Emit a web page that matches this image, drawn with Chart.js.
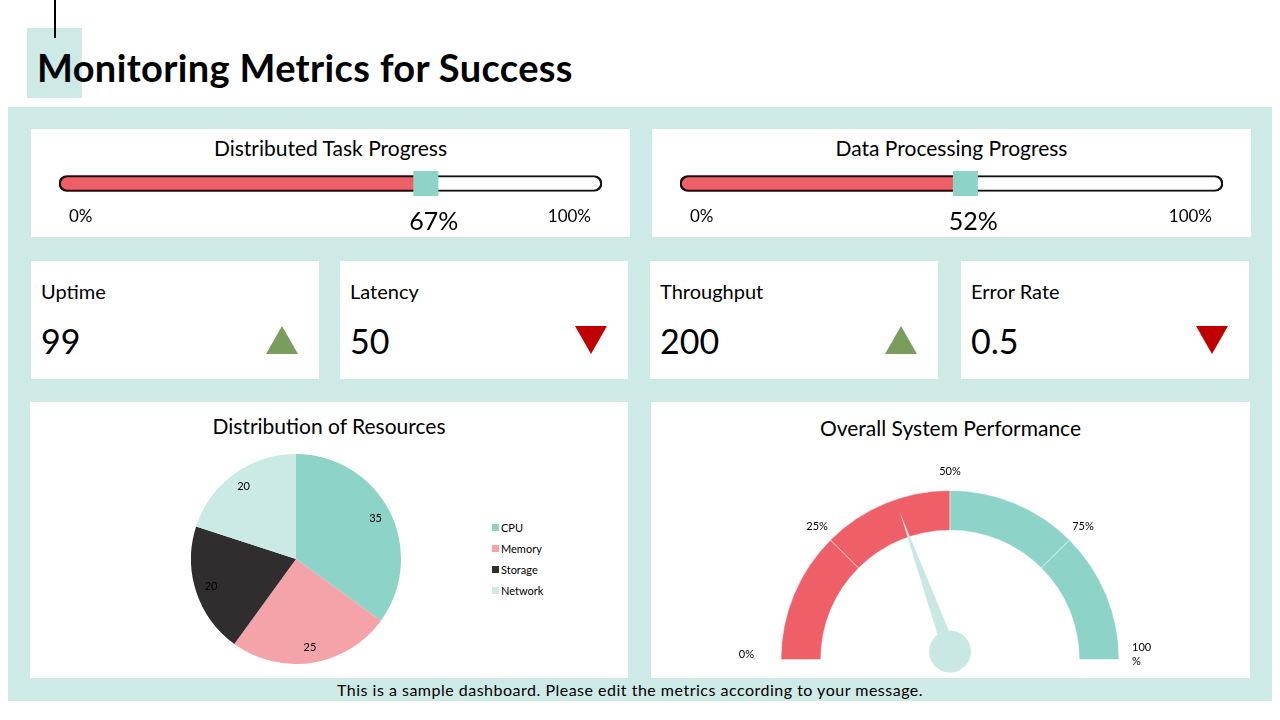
<!DOCTYPE html>
<html>
<head>
<meta charset="utf-8">
<title>Monitoring Metrics for Success</title>
<script src="https://cdn.jsdelivr.net/npm/chart.js@4.4.1/dist/chart.umd.min.js"></script>
<style>
  body { margin: 0; width: 1280px; height: 720px; background: #fff; font-family: Lato, "Noto Sans", sans-serif; color: #000; position: relative; overflow: hidden; }
  .abs { position: absolute; }
  #titleBox { left: 27px; top: 28px; width: 55px; height: 70px; background: #cdeae7; }
  #titleLine { left: 54px; top: 0; width: 2px; height: 38px; background: #000; }
  #title { left: 37px; top: 44px; font-size: 38px; font-weight: 700; line-height: 46px; white-space: nowrap; letter-spacing: 0.35px; }
  #panel { left: 8px; top: 107px; width: 1264px; height: 594px; background: #cdeae7; }
  .card { position: absolute; background: #fff; }
  .cardTitle { position: absolute; left: 0; right: 0; text-align: center; font-size: 21px; line-height: 24px; }
  .chartBox { position: absolute; }
  .kpiLabel { position: absolute; left: 10px; top: 18px; font-size: 20px; line-height: 24px; }
  .kpiValue { position: absolute; left: 10px; top: 60px; font-size: 34px; line-height: 40px; }
  .tri { position: absolute; width: 0; height: 0; border-left: 16px solid transparent; border-right: 16px solid transparent; }
  .tri.up { border-bottom: 28px solid #799d5c; }
  .tri.down { border-top: 28px solid #c00000; }
  #legend { left: 492px; top: 517px; font-size: 11px; line-height: 21px; }
  #legend div { display: flex; align-items: center; }
  #legend span.box { width: 7px; height: 7px; margin-right: 2px; display: inline-block; }
  #footer { left: 0; width: 1260px; top: 680px; text-align: center; font-size: 16px; line-height: 20px; letter-spacing: 0.5px; }
</style>
</head>
<body>
<div id="panel" class="abs"></div>
<div id="titleBox" class="abs"></div>
<div id="titleLine" class="abs"></div>
<div id="title" class="abs">Monitoring Metrics for Success</div>

<div id="progress"></div>
<div id="kpis"></div>

<div class="card" style="left:30px; top:402px; width:598px; height:276px;">
  <div class="cardTitle" style="top:12px;">Distribution of Resources</div>
</div>
<div class="chartBox" style="left:191px; top:454px; width:210px; height:210px;"><canvas id="pieChart"></canvas></div>
<div id="legend" class="abs"></div>

<div class="card" style="left:651px; top:402px; width:599px; height:276px;">
  <div class="cardTitle" style="top:14px;">Overall System Performance</div>
  <div class="chartBox" style="left:0; top:0; width:599px; height:276px;"><canvas id="gaugeChart"></canvas></div>
</div>

<div id="footer" class="abs">This is a sample dashboard. Please edit the metrics according to your message.</div>

<script>
// Dados do painel
const progressTitles = ['Distributed Task Progress', 'Data Processing Progress'];
const progressValues = [67, 52];
const progressTicks = ['0%', '100%'];

const kpiLabels = ['Uptime', 'Latency', 'Throughput', 'Error Rate'];
const kpiValues = ['99', '50', '200', '0.5'];
const kpiTrends = ['up', 'down', 'up', 'down'];

const resourceLabels = ['CPU', 'Memory', 'Storage', 'Network'];
const resourceValues = [35, 25, 20, 20];

const gaugeBands = [25, 25, 25, 25];
const gaugeValue = 39;
const gaugeTicks = ['0%', '25%', '50%', '75%', '100%'];

const TEAL = '#8dd3c7';
const RED = '#ef5f67';
const resourceColors = [TEAL, '#f4a3a8', '#302d2e', '#cbe9e5'];
const gaugeColors = [RED, RED, TEAL, TEAL];
const FONT = 'Lato, "Noto Sans", sans-serif';

// Cartões de progresso
const progressLefts = [31, 652];
const progressBox = document.getElementById('progress');
progressTitles.forEach(function(title, i) {
    const card = document.createElement('div');
    card.className = 'card';
    card.style.cssText = 'left:' + progressLefts[i] + 'px; top:129px; width:599px; height:108px;';
    card.innerHTML = '<div class="cardTitle" style="top:7px;">' + title + '</div>' +
        '<div class="chartBox" style="left:0; top:31px; width:599px; height:77px;"><canvas></canvas></div>';
    progressBox.appendChild(card);

    const value = progressValues[i];
    const marker = {
        id: 'marker' + i,
        afterDatasetsDraw(chart) {
            const bar = chart.getDatasetMeta(1).data[0];
            const xs = chart.scales.x;
            const ctx = chart.ctx;
            ctx.save();
            ctx.fillStyle = TEAL;
            ctx.fillRect(bar.x - 9.5, bar.y - 12.5, 25, 25);
            ctx.fillStyle = '#000';
            ctx.textBaseline = 'middle';
            ctx.font = '17px ' + FONT;
            ctx.textAlign = 'left';
            ctx.fillText(progressTicks[0], xs.getPixelForValue(0) + 10, bar.y + 33);
            ctx.textAlign = 'right';
            ctx.fillText(progressTicks[1], xs.getPixelForValue(100) - 11, bar.y + 33);
            ctx.textAlign = 'center';
            ctx.font = '25px ' + FONT;
            ctx.fillText(value + '%', bar.x + 11, bar.y + 38);
            ctx.restore();
        }
    };

    new Chart(card.querySelector('canvas'), {
        type: 'bar',
        data: {
            labels: [title],
            datasets: [{
                data: [100],
                backgroundColor: 'rgba(0,0,0,0)',
                borderColor: '#111',
                borderWidth: 1.5,
                borderRadius: 8,
                borderSkipped: false,
                barThickness: 16,
                grouped: false
            }, {
                data: [value],
                backgroundColor: RED,
                borderRadius: 8,
                borderSkipped: 'right',
                barThickness: 16,
                grouped: false
            }]
        },
        options: {
            indexAxis: 'y',
            responsive: true,
            maintainAspectRatio: false,
            animation: false,
            layout: { padding: { left: 28, right: 28, top: 11, bottom: 41 } },
            scales: {
                x: { min: 0, max: 100, display: false },
                y: { display: false }
            },
            plugins: { legend: { display: false }, tooltip: { enabled: false } }
        },
        plugins: [marker]
    });
});

// Cartões KPI
const kpiLefts = [31, 340, 650, 961];
const kpiBox = document.getElementById('kpis');
kpiLabels.forEach(function(label, i) {
    const card = document.createElement('div');
    card.className = 'card';
    card.style.cssText = 'left:' + kpiLefts[i] + 'px; top:261px; width:288px; height:118px;';
    card.innerHTML = '<div class="kpiLabel">' + label + '</div>' +
        '<div class="kpiValue">' + kpiValues[i] + '</div>' +
        '<div class="tri ' + kpiTrends[i] + '" style="left:235px; top:65px;"></div>';
    kpiBox.appendChild(card);
});

// Gráfico de pizza
const pieLabels = {
    id: 'pieLabels',
    afterDatasetsDraw(chart) {
        const ctx = chart.ctx;
        ctx.save();
        ctx.font = '11px ' + FONT;
        ctx.fillStyle = '#000';
        ctx.textAlign = 'center';
        ctx.textBaseline = 'middle';
        chart.getDatasetMeta(0).data.forEach(function(arc, i) {
            const mid = (arc.startAngle + arc.endAngle) / 2;
            const r = arc.outerRadius * 0.85;
            ctx.fillText(resourceValues[i], arc.x + Math.cos(mid) * r, arc.y + Math.sin(mid) * r);
        });
        ctx.restore();
    }
};

new Chart(document.getElementById('pieChart'), {
    type: 'pie',
    data: {
        labels: resourceLabels,
        datasets: [{ data: resourceValues, backgroundColor: resourceColors, borderWidth: 0 }]
    },
    options: {
        responsive: true,
        maintainAspectRatio: false,
        animation: false,
        plugins: { legend: { display: false }, tooltip: { enabled: false } }
    },
    plugins: [pieLabels]
});

const legend = document.getElementById('legend');
resourceLabels.forEach(function(label, i) {
    const row = document.createElement('div');
    row.innerHTML = '<span class="box" style="background:' + resourceColors[i] + '"></span>' + label;
    legend.appendChild(row);
});

// Velocímetro
const gaugeDecor = {
    id: 'gaugeDecor',
    afterDatasetsDraw(chart) {
        const arc = chart.getDatasetMeta(0).data[0];
        const cx = arc.x, cy = arc.y, r = arc.outerRadius;
        const ctx = chart.ctx;
        ctx.save();
        ctx.font = '11px ' + FONT;
        ctx.fillStyle = '#000';
        ctx.textBaseline = 'middle';
        const last = gaugeTicks.length - 1;
        gaugeTicks.forEach(function(t, i) {
            if (i === 0) {
                ctx.textAlign = 'right';
                ctx.fillText(t, cx - r - 27, cy - 5);
            } else if (i === last) {
                ctx.textAlign = 'left';
                ctx.fillText(t.slice(0, -1), cx + r + 13, cy - 12);
                ctx.fillText('%', cx + r + 13, cy + 2);
            } else {
                const a = Math.PI + Math.PI * i / last;
                ctx.textAlign = 'center';
                ctx.fillText(t, cx + Math.cos(a) * (r + 19), cy + Math.sin(a) * (r + 19));
            }
        });

        // agulha
        const hx = cx, hy = cy - 8;
        const a = Math.PI + Math.PI * gaugeValue / 100;
        const len = 148, half = 7;
        ctx.fillStyle = '#c9e8e4';
        ctx.beginPath();
        ctx.moveTo(hx + Math.cos(a) * len, hy + Math.sin(a) * len);
        ctx.lineTo(hx + Math.cos(a + Math.PI / 2) * half, hy + Math.sin(a + Math.PI / 2) * half);
        ctx.lineTo(hx - Math.cos(a + Math.PI / 2) * half, hy - Math.sin(a + Math.PI / 2) * half);
        ctx.closePath();
        ctx.fill();
        ctx.beginPath();
        ctx.arc(hx, hy, 21, 0, Math.PI * 2);
        ctx.fill();
        ctx.restore();
    }
};

new Chart(document.getElementById('gaugeChart'), {
    type: 'doughnut',
    data: {
        labels: gaugeTicks.slice(1),
        datasets: [{
            data: gaugeBands,
            backgroundColor: gaugeColors,
            borderColor: 'rgba(255,255,255,0.45)',
            borderWidth: 1
        }]
    },
    options: {
        responsive: true,
        maintainAspectRatio: false,
        animation: false,
        rotation: -90,
        circumference: 180,
        cutout: '76.5%',
        layout: { padding: { left: 129, right: 130, top: 88, bottom: 18 } },
        plugins: { legend: { display: false }, tooltip: { enabled: false } }
    },
    plugins: [gaugeDecor]
});
</script>
</body>
</html>
